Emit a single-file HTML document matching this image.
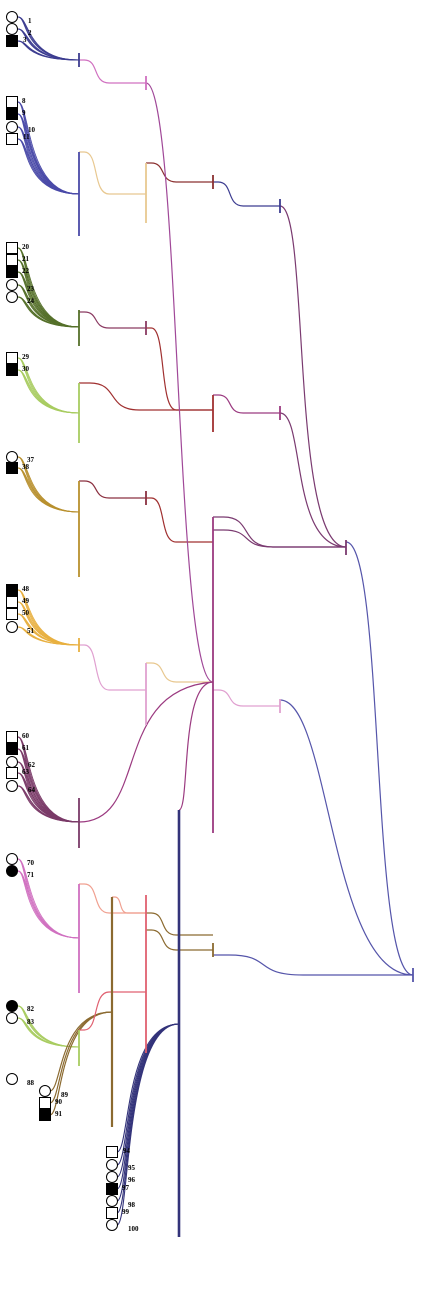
<!DOCTYPE html>
<html><head><meta charset="utf-8"><style>
html,body{margin:0;padding:0;background:#fff;}
svg{display:block;}
text{font-family:"Liberation Serif",serif;font-size:7px;font-weight:bold;fill:#000;}
</style></head><body>
<svg id="s" width="430" height="1289" viewBox="0 0 430 1289" xmlns="http://www.w3.org/2000/svg">
<g id="lines" fill="none" stroke-linecap="butt"></g>
<g id="bars"></g>
<g stroke="#000" stroke-width="1" fill="#fff">
<circle cx="12" cy="17" r="5.5"/><circle cx="12" cy="29" r="5.5"/><rect x="6.5" y="35.5" width="11" height="11" fill="#000"/>
<rect x="6.5" y="96.5" width="11" height="11"/><rect x="6.5" y="108.5" width="11" height="11" fill="#000"/><circle cx="12" cy="127" r="5.5"/><rect x="6.5" y="133.5" width="11" height="11"/>
<rect x="6.5" y="242.5" width="11" height="11"/><rect x="6.5" y="254.5" width="11" height="11"/><rect x="6.5" y="266.5" width="11" height="11" fill="#000"/><circle cx="12" cy="285" r="5.5"/><circle cx="12" cy="297" r="5.5"/>
<rect x="6.5" y="352.5" width="11" height="11"/><rect x="6.5" y="364.5" width="11" height="11" fill="#000"/>
<circle cx="12" cy="457" r="5.5"/><rect x="6.5" y="462.5" width="11" height="11" fill="#000"/>
<rect x="6.5" y="584.5" width="11" height="11" fill="#000"/><rect x="6.5" y="596.5" width="11" height="11"/><rect x="6.5" y="608.5" width="11" height="11"/><circle cx="12" cy="627" r="5.5"/>
<rect x="6.5" y="731.5" width="11" height="11"/><rect x="6.5" y="743.5" width="11" height="11" fill="#000"/><circle cx="12" cy="762" r="5.5"/><rect x="6.5" y="767.5" width="11" height="11"/><circle cx="12" cy="786" r="5.5"/>
<circle cx="12" cy="859" r="5.5"/><circle cx="12" cy="871" r="5.5" fill="#000"/>
<circle cx="12" cy="1006" r="5.5" fill="#000"/><circle cx="12" cy="1018" r="5.5"/>
<circle cx="12" cy="1079" r="5.5"/>
<circle cx="45" cy="1091" r="5.5"/><rect x="39.5" y="1097.5" width="11" height="11"/><rect x="39.5" y="1109.5" width="11" height="11" fill="#000"/>
<rect x="106.5" y="1146.5" width="11" height="11"/><circle cx="112" cy="1165" r="5.5"/><circle cx="112" cy="1177" r="5.5"/><rect x="106.5" y="1183.5" width="11" height="11" fill="#000"/><circle cx="112" cy="1201" r="5.5"/><rect x="106.5" y="1207.5" width="11" height="11"/><circle cx="112" cy="1225" r="5.5"/>
</g>
<g>
<text x="28" y="23">1</text><text x="28" y="35">2</text><text x="23" y="42">3</text>
<text x="22" y="103">8</text><text x="22" y="115">9</text><text x="28" y="132">10</text><text x="23" y="139">11</text>
<text x="22" y="249">20</text><text x="22" y="261">21</text><text x="22" y="273">22</text><text x="27" y="291">23</text><text x="27" y="303">24</text>
<text x="22" y="359">29</text><text x="22" y="371">30</text>
<text x="27" y="462">37</text><text x="22" y="469">38</text>
<text x="22" y="591">48</text><text x="22" y="603">49</text><text x="22" y="615">50</text><text x="27" y="633">51</text>
<text x="22" y="738">60</text><text x="22" y="750">61</text><text x="28" y="767">62</text><text x="22" y="774">63</text><text x="28" y="792">64</text>
<text x="27" y="865">70</text><text x="27" y="877">71</text>
<text x="27" y="1011">82</text><text x="27" y="1024">83</text>
<text x="27" y="1085">88</text>
<text x="61" y="1097">89</text><text x="55" y="1104">90</text><text x="55" y="1116">91</text>
<text x="123" y="1153">94</text><text x="128" y="1170">95</text><text x="128" y="1182">96</text><text x="122" y="1190">97</text><text x="128" y="1207">98</text><text x="122" y="1214">99</text><text x="128" y="1231">100</text>
</g>
</svg>
<script>
var L=document.getElementById('lines'),B=document.getElementById('bars');
function p(d,c,w){var e=document.createElementNS('http://www.w3.org/2000/svg','path');e.setAttribute('d',d);e.setAttribute('stroke',c);e.setAttribute('stroke-width',w||1.2);e.setAttribute('fill','none');L.appendChild(e);}
function leaf(x1,y1,x2,y2,c){for(var k=0;k<3;k++){p('M'+x1+' '+y1+' C'+(x1+10+k)+' '+y1+' '+(x1+4+k*2)+' '+y2+' '+x2+' '+y2,c,0.9);}}
function cv(x1,y1,x2,y2,c,w){var dx=x2-x1;
 if(Math.abs(y2-y1)<120){var a=x1+0.08*dx,b=x1+0.45*dx;p('M'+x1+' '+y1+' H'+a+' C'+(a+0.22*dx)+' '+y1+' '+(a+0.12*dx)+' '+y2+' '+b+' '+y2+' H'+x2,c,w);}
 else{var m=(x1+x2)/2;p('M'+x1+' '+y1+' C'+(x1+0.6*dx)+' '+y1+' '+(x1+0.35*dx)+' '+y2+' '+x2+' '+y2,c,w);}}
function bar(x,y1,y2,c,w){var e=document.createElementNS('http://www.w3.org/2000/svg','line');e.setAttribute('x1',x);e.setAttribute('x2',x);e.setAttribute('y1',y1);e.setAttribute('y2',y2);e.setAttribute('stroke',c);e.setAttribute('stroke-width',w||1.8);B.appendChild(e);}
[17,29,41].forEach(function(y){leaf(18,y,79,60,'#3c3c90');});bar(79,53,67,'#3c3c90');
[102,114,127,139].forEach(function(y){leaf(18,y,79,194,'#4a4aa8');});bar(79,152,236,'#4a4aa8');
[248,260,272,285,297].forEach(function(y){leaf(18,y,79,327,'#55702a');});bar(79,310,346,'#55702a');
[358,370].forEach(function(y){leaf(18,y,79,413,'#a8cc60');});bar(79,383,443,'#a8cc60');
[457,468].forEach(function(y){leaf(18,y,79,512,'#b8902e');});bar(79,481,577,'#b8902e');
[590,602,614,627].forEach(function(y){leaf(18,y,79,645,'#e8b040');});bar(79,638,652,'#e8b040');
[737,749,762,773,786].forEach(function(y){leaf(18,y,79,822,'#7a3a68');});bar(79,798,848,'#7a3a68');
[859,871].forEach(function(y){leaf(18,y,79,938,'#d070c0');});bar(79,884,993,'#d070c0');
[1006,1018].forEach(function(y){leaf(18,y,79,1047,'#a8cc60');});bar(79,1030,1066,'#a8cc60');
[1091,1103,1115].forEach(function(y){p('M50 '+y+' C62 '+y+' 58 1012 112 1012','#8b6a30',1.2);});bar(112,897,1127,'#8b6a30',2.2);
[1152,1165,1177,1189,1201,1213,1225].forEach(function(y){p('M117 '+y+' C130 '+y+' 124 1024 179 1024','#33337a',1.1);});
cv(79,60,146,83,'#d070c0');bar(146,76,90,'#d070c0');
cv(79,152,146,194,'#e8c890');bar(146,163,223,'#e8c890');
cv(79,312,146,328,'#8b3a62');bar(146,321,335,'#8b3a62');
cv(79,481,146,498,'#8b3040');bar(146,491,505,'#8b3040');
cv(79,645,146,690,'#e0a0d0');bar(146,663,725,'#e0a0d0');
cv(79,884,146,913,'#f0a090');cv(112,897,146,913,'#f0a090');bar(146,895,1053,'#e06070');
cv(79,1030,146,992,'#e06070');
bar(179,810,1237,'#33337a',2.6);
cv(146,163,213,182,'#8b3030');bar(213,175,189,'#8b3030');
cv(146,328,213,410,'#a03030');cv(79,383,213,410,'#a03030');bar(213,395,432,'#a03030');
cv(146,498,213,542,'#a03030');
p('M146 83 C180 83 175 682 213 682','#a04898',1.2);cv(146,663,213,682,'#e8c890');p('M79 822 C150 822 110 690 213 682','#9b3a80',1.2);p('M179 810 C190 810 180 682 213 682','#9b3a80',1.2);
bar(213,517,833,'#9b3a80');
cv(146,913,213,935,'#8b6a30');cv(146,930,213,950,'#8b6a30');bar(213,943,957,'#8b6a30');
cv(213,182,280,206,'#3c3c90');bar(280,199,213,'#3c3c90');
cv(213,395,280,413,'#9b3a80');bar(280,406,420,'#9b3a80');
cv(213,690,280,706,'#e0a0d0');bar(280,699,713,'#e0a0d0');
p('M280 206 C310 206 290 547 346 547','#7a3a70',1.2);p('M280 413 C305 413 290 547 346 547','#7a3a70',1.2);cv(213,517,346,547,'#7a3a70');cv(213,530,346,547,'#7a3a70');bar(346,540,555,'#7a3a70');
p('M346 542 C385 542 370 975 413 975','#5555aa',1.2);p('M280 700 C330 700 330 975 413 975','#5555aa',1.2);cv(213,955,413,975,'#5555aa');bar(413,968,982,'#5555aa');
</script>
</body></html>
